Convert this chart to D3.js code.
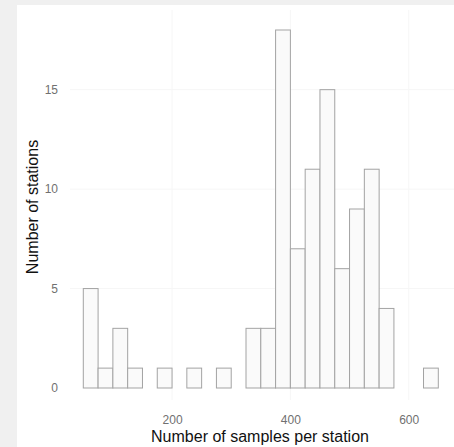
<!DOCTYPE html>
<html>
<head>
<meta charset="utf-8">
<script src="https://cdn.jsdelivr.net/npm/d3@7"></script>
<style>
  html, body { margin: 0; padding: 0; background: #f0f0f0; }
  svg { display: block; font-family: "Liberation Sans", Arial, sans-serif; }
</style>
</head>
<body>
<div id="chart"></div>
<script>
// histogram bins: start of each bin (width 25) and count
const binStarts = [50, 75, 100, 125, 150, 175, 200, 225, 250, 275, 300, 325,
  350, 375, 400, 425, 450, 475, 500, 525, 550, 575, 600, 625];
const counts = [5, 1, 3, 1, 0, 1, 0, 1, 0, 1, 0, 3,
  3, 18, 7, 11, 15, 6, 9, 11, 4, 0, 0, 1];
const binWidth = 25;
const xTicks = [200, 400, 600];
const yTicks = [0, 5, 10, 15];

const width = 454;
const height = 447;

const svg = d3.select('#chart')
  .append('svg')
  .attr('width', width)
  .attr('height', height);

// white panel
svg.append('rect')
  .attr('x', 17)
  .attr('y', 5)
  .attr('width', width - 17)
  .attr('height', height - 5)
  .attr('fill', '#ffffff');

const x = d3.scaleLinear()
  .domain([50, 650])
  .range([83.3, 438.3]);

const y = d3.scaleLinear()
  .domain([0, 18])
  .range([388, 30]);

// faint grid
svg.append('g')
  .selectAll('line')
  .data(yTicks.filter(d => d > 0))
  .join('line')
  .attr('x1', 70)
  .attr('x2', width)
  .attr('y1', d => y(d))
  .attr('y2', d => y(d))
  .attr('stroke', '#f6f6f6');

svg.append('g')
  .selectAll('line')
  .data(xTicks)
  .join('line')
  .attr('x1', d => x(d))
  .attr('x2', d => x(d))
  .attr('y1', 10)
  .attr('y2', 400)
  .attr('stroke', '#f6f6f6');

// bars
svg.append('g')
  .selectAll('rect')
  .data(binStarts.map((s, i) => ({ start: s, count: counts[i] })))
  .join('rect')
  .attr('x', d => x(d.start))
  .attr('y', d => y(d.count))
  .attr('width', d => x(d.start + binWidth) - x(d.start))
  .attr('height', d => y(0) - y(d.count))
  .attr('fill', '#fafafa')
  .attr('stroke', '#a3a3a3')
  .attr('stroke-width', 1);

// axes (labels only, no lines)
const xAxis = svg.append('g')
  .attr('transform', `translate(0,${y(0)})`)
  .call(d3.axisBottom(x).tickValues(xTicks).tickSize(0).tickPadding(27));
xAxis.select('.domain').remove();
xAxis.selectAll('text')
  .attr('fill', '#707070')
  .attr('font-size', 12)
  .attr('font-family', '"Liberation Sans", Arial, sans-serif');

const yAxis = svg.append('g')
  .attr('transform', 'translate(58,0)')
  .call(d3.axisLeft(y).tickValues(yTicks).tickSize(0).tickPadding(0));
yAxis.select('.domain').remove();
yAxis.selectAll('text')
  .attr('fill', '#707070')
  .attr('font-size', 12)
  .attr('font-family', '"Liberation Sans", Arial, sans-serif');

// axis titles
svg.append('text')
  .attr('x', 260)
  .attr('y', 442)
  .attr('text-anchor', 'middle')
  .attr('font-size', 16)
  .attr('fill', '#111')
  .text('Number of samples per station');

svg.append('text')
  .attr('transform', 'translate(38,207) rotate(-90)')
  .attr('text-anchor', 'middle')
  .attr('font-size', 16)
  .attr('fill', '#111')
  .text('Number of stations');
</script>
</body>
</html>
